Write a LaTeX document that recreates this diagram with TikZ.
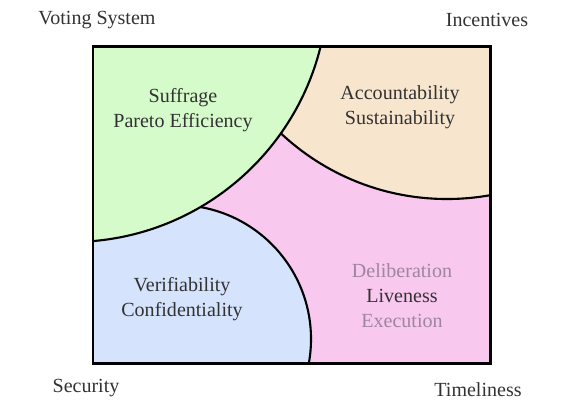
\documentclass[tikz,border=0pt]{standalone}
\usepackage{fontspec}
\setmainfont{Liberation Serif}
\usepackage{tikz}

\definecolor{suffragegreen}{RGB}{213,251,203}
\definecolor{incentivepeach}{RGB}{247,229,205}
\definecolor{livenesspink}{RGB}{248,200,238}
\definecolor{securityblue}{RGB}{214,227,253}
\definecolor{labelgray}{RGB}{50,50,50}
\definecolor{fadedgray}{RGB}{158,134,158}

\tikzset{
  region/.style={draw=black,line width=1.2pt},
  frame/.style={draw=black,line width=1.7pt},
  prop/.style={align=center,text=labelgray,font=\fontsize{11.4}{14.2}\selectfont},
  corner/.style={text=labelgray,font=\fontsize{11.4}{13}\selectfont},
}

\begin{document}
\begin{tikzpicture}[x=0.02cm,y=-0.02cm]
            \useasboundingbox (0,0) rectangle (577,417);
            % the four areas, cut to the frame
            \begin{scope}
                \clip (93,46) rectangle (490,363);
                \fill[livenesspink] (93,46) rectangle (490,363);
                \filldraw[region,fill=incentivepeach] (447,-44) circle[radius=243];
                \filldraw[region,fill=securityblue] (177,339) circle[radius=134];
                \filldraw[region,fill=suffragegreen] (71,-15) circle[radius=257];
            \end{scope}
            \draw[frame] (93,46) rectangle (490,363);
            % area labels
            \node[prop] at (183,110) (suffrage) {Suffrage\\Pareto Efficiency};
            \node[prop] at (400,107) (accountability) {Accountability\\Sustainability};
            \node[prop] at (182,299) (verifiability) {Verifiability\\Confidentiality};
            \node[prop,text=fadedgray] at (402,271) (deliberation) {Deliberation};
            \node[prop] at (402,296) (liveness) {Liveness};
            \node[prop,text=fadedgray] at (402,321) (execution) {Execution};
            % corner labels
            \node[corner] at (97,20) (voting) {Voting System};
            \node[corner] at (487,20) (incentives) {Incentives};
            \node[corner] at (86,388) (security) {Security};
            \node[corner] at (478,390) (timeliness) {Timeliness};
        \end{tikzpicture}
\end{document}
